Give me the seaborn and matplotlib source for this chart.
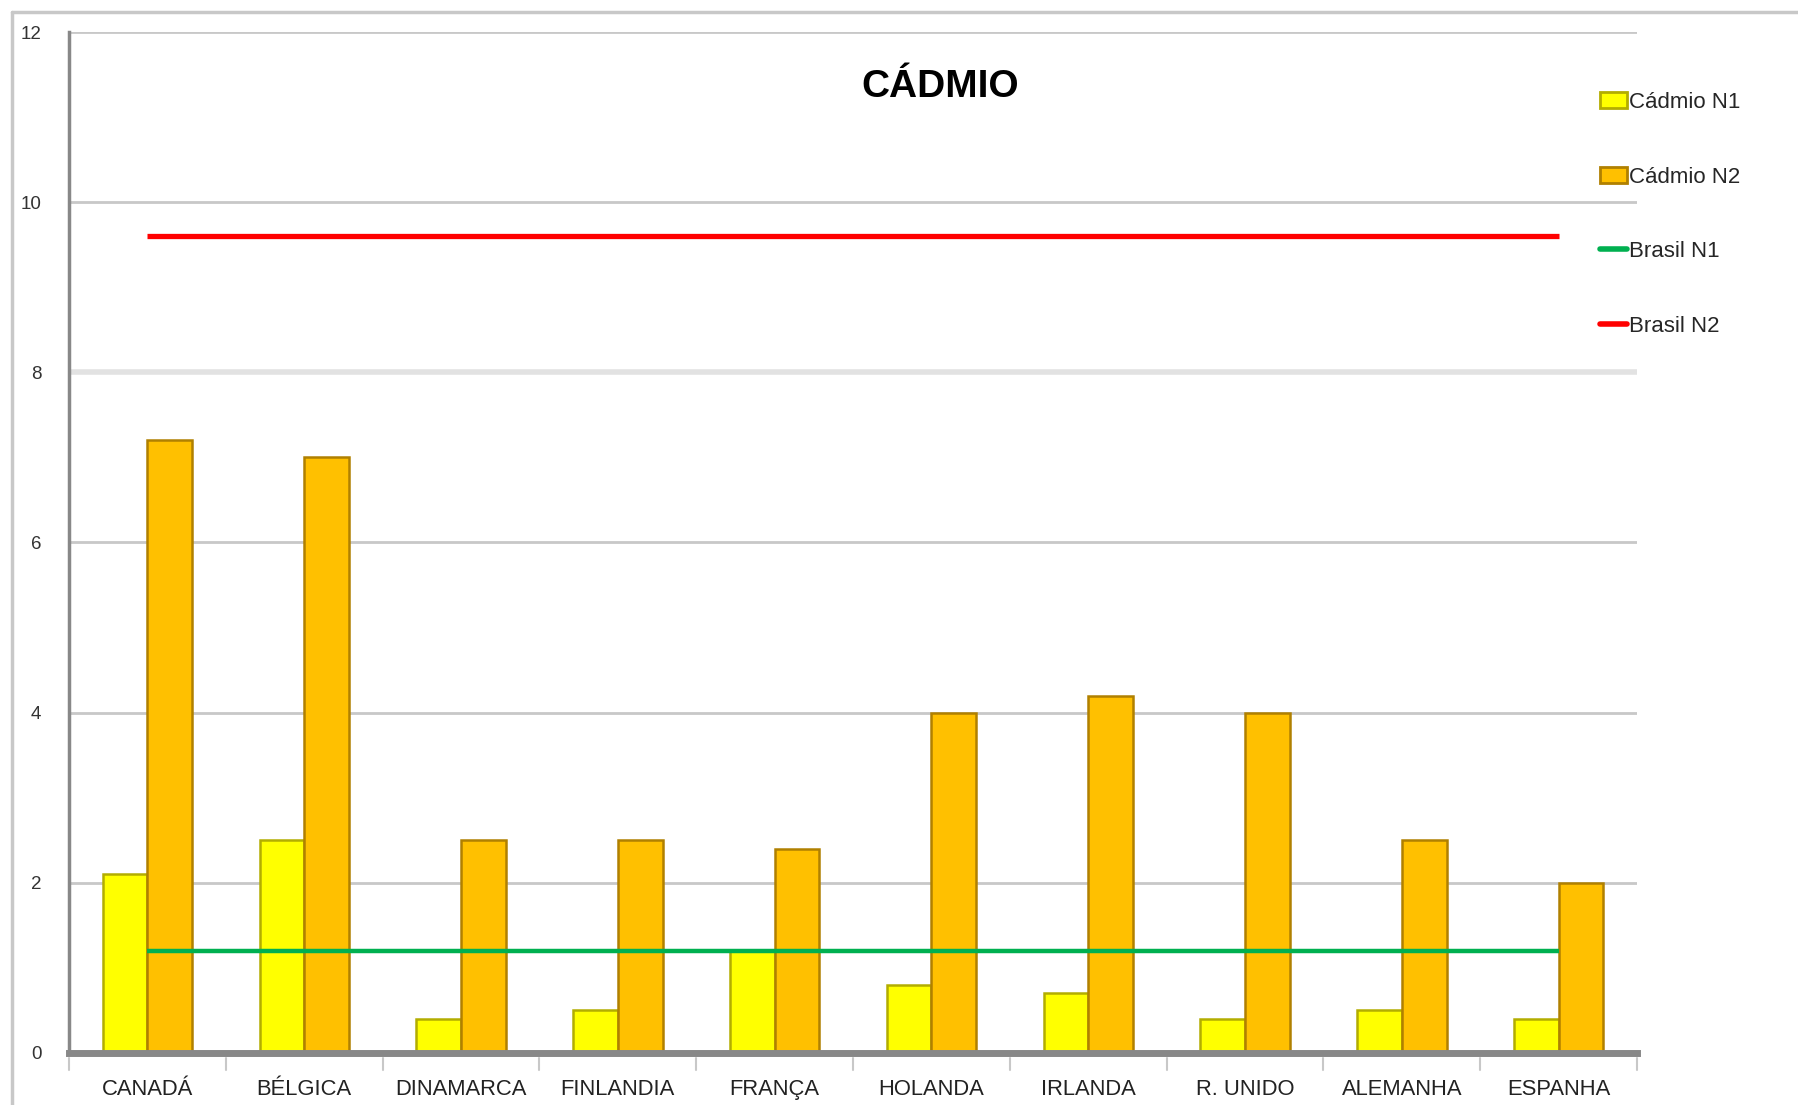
import matplotlib
matplotlib.use("Agg")
import matplotlib.pyplot as plt
import seaborn as sns
import pandas as pd
from matplotlib.patches import Patch
from matplotlib.lines import Line2D

countries = ["CANADÁ", "BÉLGICA", "DINAMARCA", "FINLANDIA", "FRANÇA",
             "HOLANDA", "IRLANDA", "R. UNIDO", "ALEMANHA", "ESPANHA"]
cadmio_n1 = [2.1, 2.5, 0.4, 0.5, 1.2, 0.8, 0.7, 0.4, 0.5, 0.4]
cadmio_n2 = [7.2, 7.0, 2.5, 2.5, 2.4, 4.0, 4.2, 4.0, 2.5, 2.0]
brasil_n1 = [1.2, 1.2, 1.2, 1.2, 1.2, 1.2, 1.2, 1.2, 1.2, 1.2]
brasil_n2 = [9.6, 9.6, 9.6, 9.6, 9.6, 9.6, 9.6, 9.6, 9.6, 9.6]
series_names = ["Cádmio N1", "Cádmio N2", "Brasil N1", "Brasil N2"]
yticks = [0, 2, 4, 6, 8, 10, 12]
title = "CÁDMIO"

df = pd.DataFrame({
    "pais": countries * 2,
    "valor": cadmio_n1 + cadmio_n2,
    "serie": [series_names[0]] * len(countries) + [series_names[1]] * len(countries),
})

sns.set_theme(style="white")
plt.rcParams["font.family"] = ["Liberation Sans", "DejaVu Sans"]

fig = plt.figure(figsize=(17.98, 11.05), dpi=100)
ax = fig.add_axes([0.0384, 0.0471, 0.9105 - 0.0384, 0.971 - 0.0471])

face = {series_names[0]: "#FFFF00", series_names[1]: "#FFC000"}
edge = {series_names[0]: "#B3AD00", series_names[1]: "#B08000"}

sns.barplot(data=df, x="pais", y="valor", hue="serie", order=countries,
            hue_order=series_names[:2], palette=face, width=0.57,
            saturation=1, legend=False, ax=ax, zorder=3)

n = len(countries)
for i, p in enumerate(ax.patches):
    s = series_names[0] if i < n else series_names[1]
    p.set_edgecolor(edge[s])
    p.set_linewidth(1.8)

xs = list(range(n))
ax.plot(xs, brasil_n1, color="#00B050", lw=3.2, zorder=4, solid_capstyle="butt")
ax.plot(xs, brasil_n2, color="#FF0000", lw=3.8, zorder=4, solid_capstyle="butt")

ax.set_ylim(0, 12)
ax.set_xlim(-0.5, n - 0.5)
ax.set_yticks(yticks)
ax.set_yticklabels([str(v) for v in yticks], fontsize=13.5, color="#333333")
ax.tick_params(axis="y", length=0, pad=20)
ax.tick_params(axis="x", length=0, pad=19, labelsize=15.8, labelcolor="#222222")
ax.set_xlabel("")
ax.set_ylabel("")

for v in yticks[1:]:
    if v == 8:
        ax.axhline(v, color="#E2E2E2", lw=4, zorder=1)
    else:
        ax.axhline(v, color="#C8C8C8", lw=2, zorder=1)

# category separator tick marks below the axis
for b in [i - 0.5 for i in range(n + 1)]:
    ax.plot([b, b], [-0.06, -0.2], color="#C8C8C8", lw=1.5, clip_on=False, zorder=2)

for s in ["top", "right"]:
    ax.spines[s].set_visible(False)
ax.spines["left"].set_color("#888888")
ax.spines["left"].set_linewidth(2.5)
ax.spines["bottom"].set_color("#888888")
ax.spines["bottom"].set_linewidth(5)
ax.spines["bottom"].set_zorder(5)

fig.text(0.523, 0.921, title, fontsize=28, fontweight="bold",
         ha="center", va="center", color="#000000")

handles = [
    Patch(facecolor=face[series_names[0]], edgecolor=edge[series_names[0]], lw=2),
    Patch(facecolor=face[series_names[1]], edgecolor=edge[series_names[1]], lw=2),
    Line2D([0], [0], color="#00B050", lw=4),
    Line2D([0], [0], color="#FF0000", lw=4),
]
fig.legend(handles, series_names, loc="upper left", bbox_to_anchor=(0.885, 0.925),
           frameon=False, fontsize=16, labelspacing=2.42, handlelength=1.2,
           handleheight=0.72, handletextpad=0.08, borderaxespad=0)

# outer chart frame (top and left)
fig.add_artist(Line2D([0.0067, 1.0], [0.989, 0.989], color="#C8C8C8", lw=2.5,
                      transform=fig.transFigure))
fig.add_artist(Line2D([0.0067, 0.0067], [0.0, 0.989], color="#C8C8C8", lw=2.5,
                      transform=fig.transFigure))

fig.savefig("out.png", dpi=100, facecolor="white")
